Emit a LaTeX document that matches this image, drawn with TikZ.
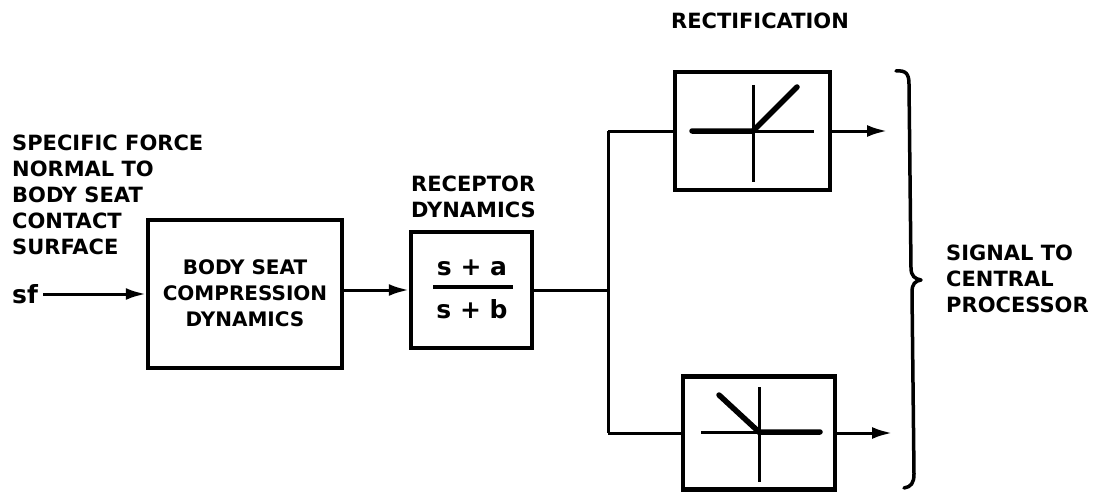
\documentclass[tikz,border=0pt]{standalone}
\usepackage{fontspec}
\setmainfont{DejaVu Sans}
\usetikzlibrary{arrows.meta}
\begin{document}
\begin{tikzpicture}[x=1pt,y=-1pt,
  lab/.style={font=\bfseries\fontsize{21}{26}\selectfont, inner sep=0pt, align=left},
  boxtext/.style={font=\bfseries\fontsize{20}{26}\selectfont, align=center},
  blk/.style={draw, line width=4.5pt, inner sep=0pt},
  conn/.style={line width=3pt},
  arr/.style={conn, -{Latex[length=20pt,width=12pt]}},
  thinax/.style={line width=3pt},
  thickax/.style={line width=5.5pt, line cap=round}
]
\useasboundingbox (0,0) rectangle (1104,495);

% left label
\node[lab, anchor=west] (inlab) at (12,195)
  {SPECIFIC FORCE\\NORMAL TO\\BODY SEAT\\CONTACT\\SURFACE};
\node[lab, anchor=west, font=\bfseries\fontsize{25}{26}\selectfont] (sf) at (12,294) {sf};

% blocks
\node[blk, minimum width=194pt, minimum height=148pt] (box1) at (245,294) {};
\node[boxtext] (box1t) at (245,293) {BODY SEAT\\COMPRESSION\\DYNAMICS};

\node[lab, anchor=west] (reclab) at (411,197) {RECEPTOR\\DYNAMICS};
\node[blk, minimum width=121pt, minimum height=116pt] (box2) at (471.5,290) {};
\node[font=\bfseries\fontsize{25}{25}\selectfont, inner sep=0pt] (num) at (472,268) {s + a};
\node[font=\bfseries\fontsize{25}{25}\selectfont, inner sep=0pt] (den) at (472,309) {s + b};
\coordinate (fl) at (433,287);
\coordinate (fr) at (513,287);
\draw[line width=4pt] (fl) -- (fr);

\node[lab, anchor=center] (rectlab) at (760,21) {RECTIFICATION};
\node[blk, minimum width=155pt, minimum height=118pt] (box3) at (752.5,131) {};
\node[blk, minimum width=152pt, minimum height=113pt] (box4) at (759,433) {};

% rectifier characteristics (top)
\coordinate (c3) at (753,131);
\coordinate (c3l) at (692,131);
\coordinate (c3r) at (814,131);
\coordinate (c3t) at (753,85);
\coordinate (c3b) at (753,182);
\coordinate (c3d) at (797,87);
\draw[thinax] (c3) -- (c3r);
\draw[thinax] (c3t) -- (c3b);
\draw[thickax] (c3l) -- (c3) -- (c3d);

% rectifier characteristics (bottom)
\coordinate (c4) at (759,432);
\coordinate (c4l) at (701,432);
\coordinate (c4r) at (820,432);
\coordinate (c4t) at (759,387);
\coordinate (c4b) at (759,482);
\coordinate (c4d) at (719,395);
\draw[thinax] (c4l) -- (c4);
\draw[thinax] (c4t) -- (c4b);
\draw[thickax] (c4d) -- (c4) -- (c4r);

% connectors
\draw[arr] (sf.east) ++(5,0) -- (box1.west |- sf.east);
\draw[arr] (box2.west -| box1.east) -- (box2.west);
\coordinate (j) at (608,290);
\draw[conn] (box2.east) -- (j);
\draw[conn] (box3.west -| j) -- (box4.west -| j);
\draw[conn] (box3.west -| j) -- (box3.west);
\draw[conn] (box4.west -| j) -- (box4.west);
\coordinate (out1) at (887,131);
\coordinate (out2) at (892,433);
\draw[arr] (box3.east) -- (out1);
\draw[arr] (box4.east) -- (out2);

% brace
\coordinate (brtip) at (921,280);
\draw[line width=3.5pt, line cap=round, line join=round]
  (896,71) .. controls (906,70) and (909,74) .. (909,84)
  -- (911,268) .. controls (911,276) and (915,279) .. (brtip)
  .. controls (915,281) and (912,284) .. (912,292)
  -- (914,474) .. controls (914,483) and (911,487) .. (904,488);

\node[lab, anchor=west] (sig) at (946,279) {SIGNAL TO\\CENTRAL\\PROCESSOR};
\end{tikzpicture}
\end{document}
